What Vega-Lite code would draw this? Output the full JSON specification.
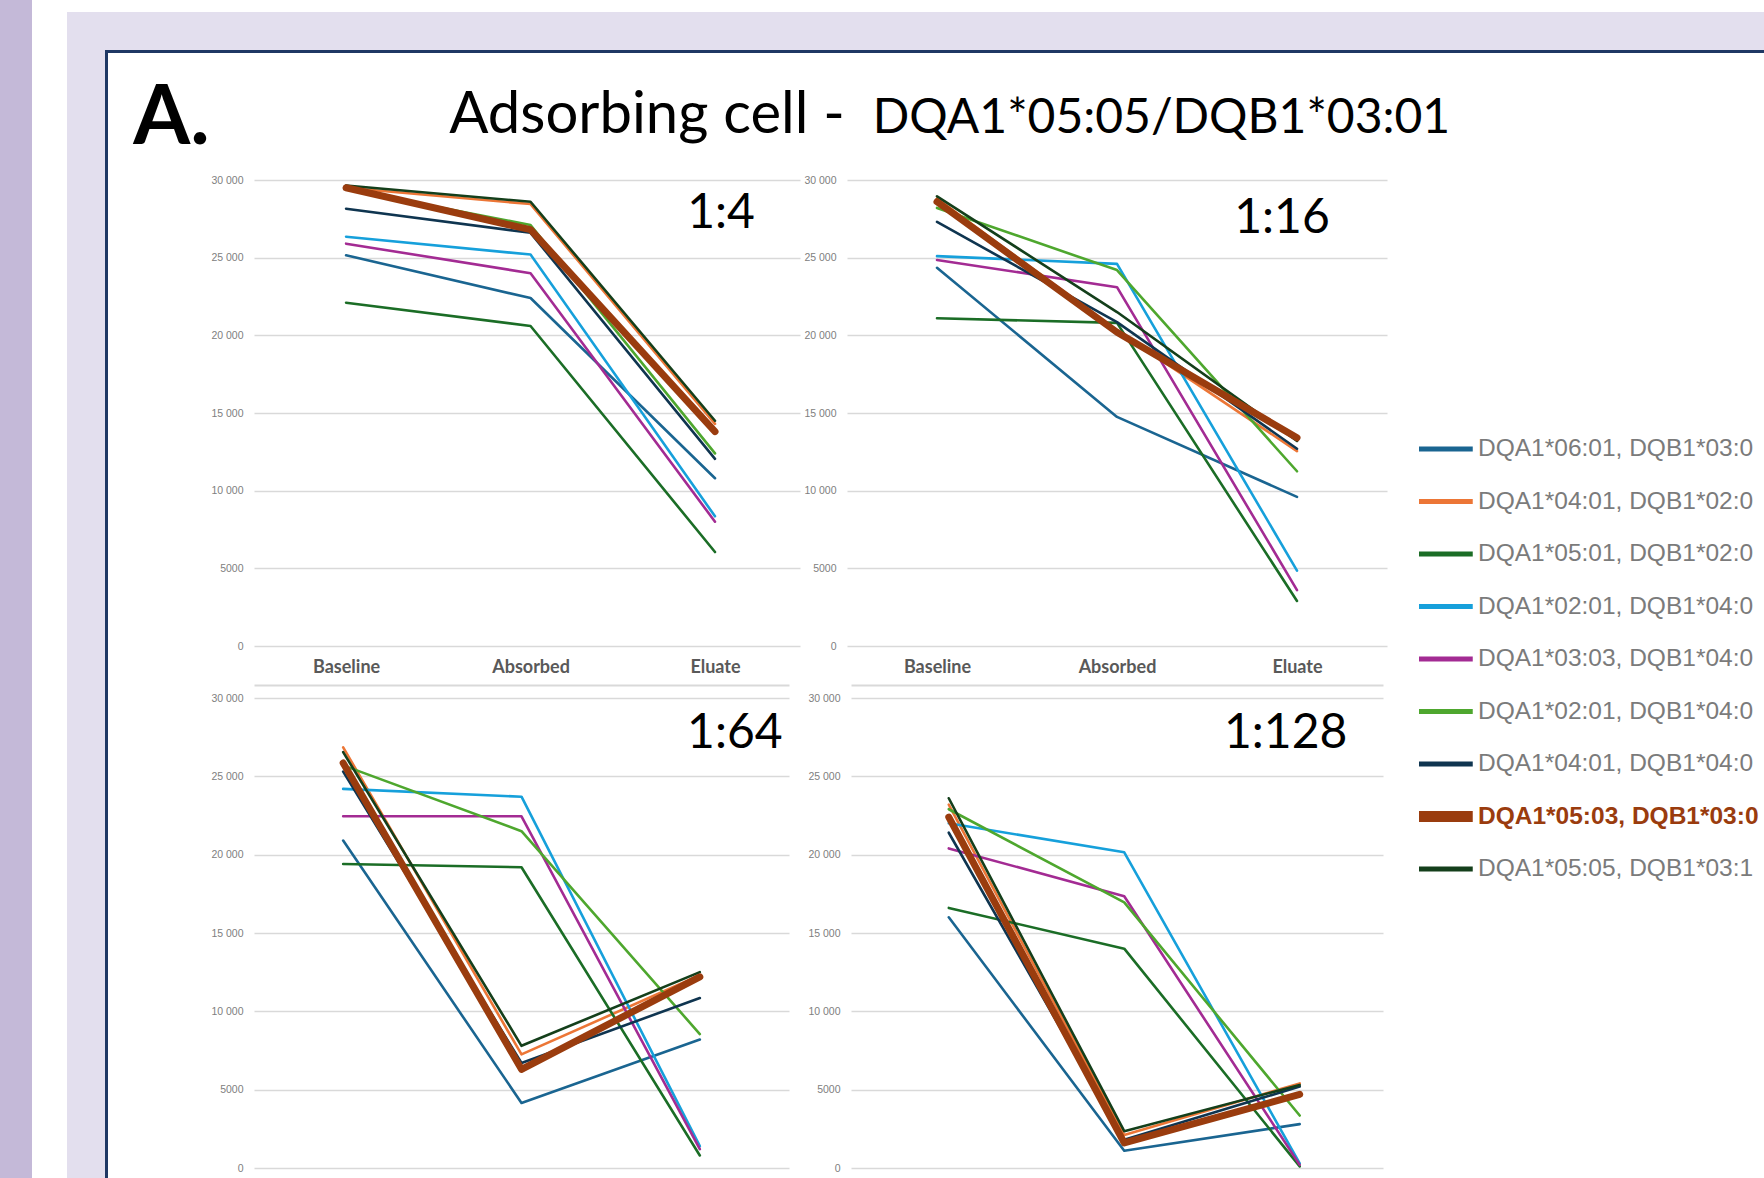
{
"$schema": "https://vega.github.io/schema/vega-lite/v6.json",
"background": "white",
"padding": 0,
"autosize": {"type": "pad"},
"config": {"view": {"stroke": null}},
"datasets": {"d": [
{"dilution":"1:4","stage":"Baseline","pair":"DQA1*06:01, DQB1*03:01","value":25150},
{"dilution":"1:4","stage":"Absorbed","pair":"DQA1*06:01, DQB1*03:01","value":22400},
{"dilution":"1:4","stage":"Eluate","pair":"DQA1*06:01, DQB1*03:01","value":10800},
{"dilution":"1:4","stage":"Baseline","pair":"DQA1*04:01, DQB1*02:01","value":29500},
{"dilution":"1:4","stage":"Absorbed","pair":"DQA1*04:01, DQB1*02:01","value":28450},
{"dilution":"1:4","stage":"Eluate","pair":"DQA1*04:01, DQB1*02:01","value":14300},
{"dilution":"1:4","stage":"Baseline","pair":"DQA1*05:01, DQB1*02:01","value":22100},
{"dilution":"1:4","stage":"Absorbed","pair":"DQA1*05:01, DQB1*02:01","value":20600},
{"dilution":"1:4","stage":"Eluate","pair":"DQA1*05:01, DQB1*02:01","value":6050},
{"dilution":"1:4","stage":"Baseline","pair":"DQA1*02:01, DQB1*04:01","value":26350},
{"dilution":"1:4","stage":"Absorbed","pair":"DQA1*02:01, DQB1*04:01","value":25200},
{"dilution":"1:4","stage":"Eluate","pair":"DQA1*02:01, DQB1*04:01","value":8350},
{"dilution":"1:4","stage":"Baseline","pair":"DQA1*03:03, DQB1*04:01","value":25900},
{"dilution":"1:4","stage":"Absorbed","pair":"DQA1*03:03, DQB1*04:01","value":24000},
{"dilution":"1:4","stage":"Eluate","pair":"DQA1*03:03, DQB1*04:01","value":8000},
{"dilution":"1:4","stage":"Baseline","pair":"DQA1*02:01, DQB1*04:02","value":29400},
{"dilution":"1:4","stage":"Absorbed","pair":"DQA1*02:01, DQB1*04:02","value":27100},
{"dilution":"1:4","stage":"Eluate","pair":"DQA1*02:01, DQB1*04:02","value":12400},
{"dilution":"1:4","stage":"Baseline","pair":"DQA1*04:01, DQB1*04:02","value":28150},
{"dilution":"1:4","stage":"Absorbed","pair":"DQA1*04:01, DQB1*04:02","value":26600},
{"dilution":"1:4","stage":"Eluate","pair":"DQA1*04:01, DQB1*04:02","value":12050},
{"dilution":"1:4","stage":"Baseline","pair":"DQA1*05:03, DQB1*03:01","value":29500},
{"dilution":"1:4","stage":"Absorbed","pair":"DQA1*05:03, DQB1*03:01","value":26800},
{"dilution":"1:4","stage":"Eluate","pair":"DQA1*05:03, DQB1*03:01","value":13800},
{"dilution":"1:4","stage":"Baseline","pair":"DQA1*05:05, DQB1*03:19","value":29650},
{"dilution":"1:4","stage":"Absorbed","pair":"DQA1*05:05, DQB1*03:19","value":28600},
{"dilution":"1:4","stage":"Eluate","pair":"DQA1*05:05, DQB1*03:19","value":14500},
{"dilution":"1:16","stage":"Baseline","pair":"DQA1*06:01, DQB1*03:01","value":24350},
{"dilution":"1:16","stage":"Absorbed","pair":"DQA1*06:01, DQB1*03:01","value":14750},
{"dilution":"1:16","stage":"Eluate","pair":"DQA1*06:01, DQB1*03:01","value":9600},
{"dilution":"1:16","stage":"Baseline","pair":"DQA1*04:01, DQB1*02:01","value":28800},
{"dilution":"1:16","stage":"Absorbed","pair":"DQA1*04:01, DQB1*02:01","value":20300},
{"dilution":"1:16","stage":"Eluate","pair":"DQA1*04:01, DQB1*02:01","value":12550},
{"dilution":"1:16","stage":"Baseline","pair":"DQA1*05:01, DQB1*02:01","value":21100},
{"dilution":"1:16","stage":"Absorbed","pair":"DQA1*05:01, DQB1*02:01","value":20800},
{"dilution":"1:16","stage":"Eluate","pair":"DQA1*05:01, DQB1*02:01","value":2900},
{"dilution":"1:16","stage":"Baseline","pair":"DQA1*02:01, DQB1*04:01","value":25100},
{"dilution":"1:16","stage":"Absorbed","pair":"DQA1*02:01, DQB1*04:01","value":24600},
{"dilution":"1:16","stage":"Eluate","pair":"DQA1*02:01, DQB1*04:01","value":4850},
{"dilution":"1:16","stage":"Baseline","pair":"DQA1*03:03, DQB1*04:01","value":24850},
{"dilution":"1:16","stage":"Absorbed","pair":"DQA1*03:03, DQB1*04:01","value":23100},
{"dilution":"1:16","stage":"Eluate","pair":"DQA1*03:03, DQB1*04:01","value":3600},
{"dilution":"1:16","stage":"Baseline","pair":"DQA1*02:01, DQB1*04:02","value":28200},
{"dilution":"1:16","stage":"Absorbed","pair":"DQA1*02:01, DQB1*04:02","value":24200},
{"dilution":"1:16","stage":"Eluate","pair":"DQA1*02:01, DQB1*04:02","value":11250},
{"dilution":"1:16","stage":"Baseline","pair":"DQA1*04:01, DQB1*04:02","value":27300},
{"dilution":"1:16","stage":"Absorbed","pair":"DQA1*04:01, DQB1*04:02","value":20850},
{"dilution":"1:16","stage":"Eluate","pair":"DQA1*04:01, DQB1*04:02","value":12700},
{"dilution":"1:16","stage":"Baseline","pair":"DQA1*05:03, DQB1*03:01","value":28600},
{"dilution":"1:16","stage":"Absorbed","pair":"DQA1*05:03, DQB1*03:01","value":20200},
{"dilution":"1:16","stage":"Eluate","pair":"DQA1*05:03, DQB1*03:01","value":13400},
{"dilution":"1:16","stage":"Baseline","pair":"DQA1*05:05, DQB1*03:19","value":28950},
{"dilution":"1:16","stage":"Absorbed","pair":"DQA1*05:05, DQB1*03:19","value":21500},
{"dilution":"1:16","stage":"Eluate","pair":"DQA1*05:05, DQB1*03:19","value":13200},
{"dilution":"1:64","stage":"Baseline","pair":"DQA1*06:01, DQB1*03:01","value":20900},
{"dilution":"1:64","stage":"Absorbed","pair":"DQA1*06:01, DQB1*03:01","value":4150},
{"dilution":"1:64","stage":"Eluate","pair":"DQA1*06:01, DQB1*03:01","value":8200},
{"dilution":"1:64","stage":"Baseline","pair":"DQA1*04:01, DQB1*02:01","value":26850},
{"dilution":"1:64","stage":"Absorbed","pair":"DQA1*04:01, DQB1*02:01","value":7250},
{"dilution":"1:64","stage":"Eluate","pair":"DQA1*04:01, DQB1*02:01","value":12300},
{"dilution":"1:64","stage":"Baseline","pair":"DQA1*05:01, DQB1*02:01","value":19400},
{"dilution":"1:64","stage":"Absorbed","pair":"DQA1*05:01, DQB1*02:01","value":19200},
{"dilution":"1:64","stage":"Eluate","pair":"DQA1*05:01, DQB1*02:01","value":800},
{"dilution":"1:64","stage":"Baseline","pair":"DQA1*02:01, DQB1*04:01","value":24200},
{"dilution":"1:64","stage":"Absorbed","pair":"DQA1*02:01, DQB1*04:01","value":23700},
{"dilution":"1:64","stage":"Eluate","pair":"DQA1*02:01, DQB1*04:01","value":1400},
{"dilution":"1:64","stage":"Baseline","pair":"DQA1*03:03, DQB1*04:01","value":22450},
{"dilution":"1:64","stage":"Absorbed","pair":"DQA1*03:03, DQB1*04:01","value":22450},
{"dilution":"1:64","stage":"Eluate","pair":"DQA1*03:03, DQB1*04:01","value":1200},
{"dilution":"1:64","stage":"Baseline","pair":"DQA1*02:01, DQB1*04:02","value":25700},
{"dilution":"1:64","stage":"Absorbed","pair":"DQA1*02:01, DQB1*04:02","value":21500},
{"dilution":"1:64","stage":"Eluate","pair":"DQA1*02:01, DQB1*04:02","value":8550},
{"dilution":"1:64","stage":"Baseline","pair":"DQA1*04:01, DQB1*04:02","value":25300},
{"dilution":"1:64","stage":"Absorbed","pair":"DQA1*04:01, DQB1*04:02","value":6700},
{"dilution":"1:64","stage":"Eluate","pair":"DQA1*04:01, DQB1*04:02","value":10850},
{"dilution":"1:64","stage":"Baseline","pair":"DQA1*05:03, DQB1*03:01","value":25850},
{"dilution":"1:64","stage":"Absorbed","pair":"DQA1*05:03, DQB1*03:01","value":6300},
{"dilution":"1:64","stage":"Eluate","pair":"DQA1*05:03, DQB1*03:01","value":12200},
{"dilution":"1:64","stage":"Baseline","pair":"DQA1*05:05, DQB1*03:19","value":26550},
{"dilution":"1:64","stage":"Absorbed","pair":"DQA1*05:05, DQB1*03:19","value":7800},
{"dilution":"1:64","stage":"Eluate","pair":"DQA1*05:05, DQB1*03:19","value":12500},
{"dilution":"1:128","stage":"Baseline","pair":"DQA1*06:01, DQB1*03:01","value":16000},
{"dilution":"1:128","stage":"Absorbed","pair":"DQA1*06:01, DQB1*03:01","value":1100},
{"dilution":"1:128","stage":"Eluate","pair":"DQA1*06:01, DQB1*03:01","value":2800},
{"dilution":"1:128","stage":"Baseline","pair":"DQA1*04:01, DQB1*02:01","value":23200},
{"dilution":"1:128","stage":"Absorbed","pair":"DQA1*04:01, DQB1*02:01","value":2100},
{"dilution":"1:128","stage":"Eluate","pair":"DQA1*04:01, DQB1*02:01","value":5400},
{"dilution":"1:128","stage":"Baseline","pair":"DQA1*05:01, DQB1*02:01","value":16600},
{"dilution":"1:128","stage":"Absorbed","pair":"DQA1*05:01, DQB1*02:01","value":14000},
{"dilution":"1:128","stage":"Eluate","pair":"DQA1*05:01, DQB1*02:01","value":100},
{"dilution":"1:128","stage":"Baseline","pair":"DQA1*02:01, DQB1*04:01","value":22000},
{"dilution":"1:128","stage":"Absorbed","pair":"DQA1*02:01, DQB1*04:01","value":20150},
{"dilution":"1:128","stage":"Eluate","pair":"DQA1*02:01, DQB1*04:01","value":300},
{"dilution":"1:128","stage":"Baseline","pair":"DQA1*03:03, DQB1*04:01","value":20400},
{"dilution":"1:128","stage":"Absorbed","pair":"DQA1*03:03, DQB1*04:01","value":17350},
{"dilution":"1:128","stage":"Eluate","pair":"DQA1*03:03, DQB1*04:01","value":200},
{"dilution":"1:128","stage":"Baseline","pair":"DQA1*02:01, DQB1*04:02","value":22900},
{"dilution":"1:128","stage":"Absorbed","pair":"DQA1*02:01, DQB1*04:02","value":16950},
{"dilution":"1:128","stage":"Eluate","pair":"DQA1*02:01, DQB1*04:02","value":3350},
{"dilution":"1:128","stage":"Baseline","pair":"DQA1*04:01, DQB1*04:02","value":21400},
{"dilution":"1:128","stage":"Absorbed","pair":"DQA1*04:01, DQB1*04:02","value":1800},
{"dilution":"1:128","stage":"Eluate","pair":"DQA1*04:01, DQB1*04:02","value":5200},
{"dilution":"1:128","stage":"Baseline","pair":"DQA1*05:03, DQB1*03:01","value":22400},
{"dilution":"1:128","stage":"Absorbed","pair":"DQA1*05:03, DQB1*03:01","value":1600},
{"dilution":"1:128","stage":"Eluate","pair":"DQA1*05:03, DQB1*03:01","value":4700},
{"dilution":"1:128","stage":"Baseline","pair":"DQA1*05:05, DQB1*03:19","value":23600},
{"dilution":"1:128","stage":"Absorbed","pair":"DQA1*05:05, DQB1*03:19","value":2350},
{"dilution":"1:128","stage":"Eluate","pair":"DQA1*05:05, DQB1*03:19","value":5300}
]},
"spacing": 35,
"bounds": "full",
"hconcat": [
 {"width": 32, "height": 1178, "data": {"values": []}, "mark": "point", "encoding": {}, "view": {"fill": "#c4b9d8", "stroke": null}},
 {"spacing": 0, "vconcat": [
  {"width": 1697, "height": 12, "data": {"values": []}, "mark": "point", "encoding": {}},
  {"width": 1697, "height": 38, "data": {"values": []}, "mark": "point", "encoding": {}, "view": {"fill": "#e3dfee", "stroke": null}},
  {"spacing": 0, "hconcat": [
   {"width": 38, "height": 1128, "data": {"values": []}, "mark": "point", "encoding": {}, "view": {"fill": "#e3dfee", "stroke": null}},
   {"spacing": 0, "vconcat": [
    {"width": 1659, "height": 3, "data": {"values": []}, "mark": "point", "encoding": {}, "view": {"fill": "#1f3864", "stroke": null}},
    {"spacing": 0, "hconcat": [
     {"width": 3, "height": 1125, "data": {"values": []}, "mark": "point", "encoding": {}, "view": {"fill": "#1f3864", "stroke": null}},
     {"spacing": 0, "vconcat": [
      {"spacing": 0, "bounds": "flush", "hconcat": [
       {"width": 127, "height": 122, "data": {"values": [{"t": "A."}]}, "mark": {"type": "text", "font": "Lato", "fontWeight": "bold", "fontSize": 82, "baseline": "alphabetic", "align": "center", "dy": 30, "color": "#000000"}, "encoding": {"text": {"field": "t"}}},
       {"width": 824, "height": 122, "data": {"values": [{"t": "Adsorbing cell -"}]}, "mark": {"type": "text", "font": "Lato", "fontSize": 58, "baseline": "alphabetic", "align": "center", "dy": 19, "color": "#000000"}, "encoding": {"text": {"field": "t"}}},
       {"width": 205, "height": 122, "data": {"values": [{"t": "DQA1*05:05/DQB1*03:01"}]}, "mark": {"type": "text", "font": "Lato", "fontSize": 48, "baseline": "alphabetic", "align": "center", "dy": 19, "color": "#000000"}, "encoding": {"text": {"field": "t"}}}
      ]},
      {"spacing": 0, "hconcat": [
       {"width": 102, "height": 10, "data": {"values": []}, "mark": "point", "encoding": {}},
       {"spacing": 9, "vconcat": [
        {"spacing": 47, "bounds": "flush", "hconcat": [
         {"width": 546, "height": 466, "layer": [
          {"data": {"name": "d"}, "transform": [{"filter": "datum.dilution === '1:4' && datum.pair !== 'DQA1*05:03, DQB1*03:01'"}],
           "mark": {"type": "line", "strokeWidth": 2.6, "strokeCap": "round", "strokeJoin": "round"},
           "encoding": {
            "x": {"field": "stage", "type": "nominal", "scale": {"type": "point", "padding": 0.48, "align": 0.52, "domain": ["Baseline", "Absorbed", "Eluate"]}, "axis": {"title": null, "orient": "bottom", "domain": false, "ticks": false, "grid": false, "labelAngle": 0, "labelFont": "Lato", "labelFontWeight": "bold", "labelFontSize": 18, "labelColor": "#595959", "labelPadding": 21, "labelBaseline": "middle"}},
            "y": {"field": "value", "type": "quantitative", "scale": {"domain": [0, 30000], "nice": false}, "axis": {"title": null, "values": [0, 5000, 10000, 15000, 20000, 25000, 30000], "labelExpr": "datum.value >= 10000 ? replace(format(datum.value, ','), ',', ' ') : format(datum.value, 'd')", "domain": false, "ticks": false, "labelPadding": 11, "labelFont": "Liberation Sans", "labelFontSize": 10.5, "labelColor": "#808080", "grid": true, "gridColor": "#d9d9d9", "gridWidth": 1.5}},
            "color": {"field": "pair", "type": "nominal", "scale": {"domain": ["DQA1*06:01, DQB1*03:01", "DQA1*04:01, DQB1*02:01", "DQA1*05:01, DQB1*02:01", "DQA1*02:01, DQB1*04:01", "DQA1*03:03, DQB1*04:01", "DQA1*02:01, DQB1*04:02", "DQA1*04:01, DQB1*04:02", "DQA1*05:03, DQB1*03:01", "DQA1*05:05, DQB1*03:19"], "range": ["#1a6591", "#ec7636", "#1b6d26", "#16a0db", "#a32b93", "#4ea72e", "#0f3550", "#9a3c0e", "#143f1b"]}, "legend": {"title": null, "orient": "none", "legendX": 1419, "legendY": 436, "symbolType": "stroke", "symbolSize": 2916, "symbolOffset": 14.5, "symbolStrokeWidth": 5, "labelFont": "Liberation Sans", "labelFontSize": 24.5, "labelColor": "#7b7b7b", "labelOffset": 20, "rowPadding": 26.5, "clipHeight": 26, "padding": 0, "labelLimit": 284, "labelExpr": "slice(datum.label, 0, 21)", "encode": {"labels": {"update": {"fill": {"signal": "datum.value === 'DQA1*05:03, DQB1*03:01' ? '#9a3c0e' : '#7b7b7b'"}, "fontWeight": {"signal": "datum.value === 'DQA1*05:03, DQB1*03:01' ? 'bold' : 'normal'"}}}, "symbols": {"update": {"strokeWidth": {"signal": "datum.value === 'DQA1*05:03, DQB1*03:01' ? 11 : 5"}}}}}}
           }},
          {"data": {"name": "d"}, "transform": [{"filter": "datum.dilution === '1:4' && datum.pair === 'DQA1*05:03, DQB1*03:01'"}],
           "mark": {"type": "line", "strokeWidth": 7, "strokeCap": "round", "strokeJoin": "round"},
           "encoding": {
            "x": {"field": "stage", "type": "nominal", "scale": {"type": "point", "padding": 0.48, "align": 0.52, "domain": ["Baseline", "Absorbed", "Eluate"]}, "axis": {"title": null, "orient": "bottom", "domain": false, "ticks": false, "grid": false, "labelAngle": 0, "labelFont": "Lato", "labelFontWeight": "bold", "labelFontSize": 18, "labelColor": "#595959", "labelPadding": 21, "labelBaseline": "middle"}},
            "y": {"field": "value", "type": "quantitative", "scale": {"domain": [0, 30000], "nice": false}, "axis": {"title": null, "values": [0, 5000, 10000, 15000, 20000, 25000, 30000], "labelExpr": "datum.value >= 10000 ? replace(format(datum.value, ','), ',', ' ') : format(datum.value, 'd')", "domain": false, "ticks": false, "labelPadding": 11, "labelFont": "Liberation Sans", "labelFontSize": 10.5, "labelColor": "#808080", "grid": true, "gridColor": "#d9d9d9", "gridWidth": 1.5}},
            "color": {"field": "pair", "type": "nominal", "scale": {"domain": ["DQA1*06:01, DQB1*03:01", "DQA1*04:01, DQB1*02:01", "DQA1*05:01, DQB1*02:01", "DQA1*02:01, DQB1*04:01", "DQA1*03:03, DQB1*04:01", "DQA1*02:01, DQB1*04:02", "DQA1*04:01, DQB1*04:02", "DQA1*05:03, DQB1*03:01", "DQA1*05:05, DQB1*03:19"], "range": ["#1a6591", "#ec7636", "#1b6d26", "#16a0db", "#a32b93", "#4ea72e", "#0f3550", "#9a3c0e", "#143f1b"]}, "legend": {"title": null, "orient": "none", "legendX": 1419, "legendY": 436, "symbolType": "stroke", "symbolSize": 2916, "symbolOffset": 14.5, "symbolStrokeWidth": 5, "labelFont": "Liberation Sans", "labelFontSize": 24.5, "labelColor": "#7b7b7b", "labelOffset": 20, "rowPadding": 26.5, "clipHeight": 26, "padding": 0, "labelLimit": 284, "labelExpr": "slice(datum.label, 0, 21)", "encode": {"labels": {"update": {"fill": {"signal": "datum.value === 'DQA1*05:03, DQB1*03:01' ? '#9a3c0e' : '#7b7b7b'"}, "fontWeight": {"signal": "datum.value === 'DQA1*05:03, DQB1*03:01' ? 'bold' : 'normal'"}}}, "symbols": {"update": {"strokeWidth": {"signal": "datum.value === 'DQA1*05:03, DQB1*03:01' ? 11 : 5"}}}}}}
           }},
          {"data": {"values": [{"label": "1:4"}]},
           "mark": {"type": "text", "font": "Lato", "fontSize": 48, "baseline": "alphabetic", "align": "center", "dx": 6, "color": "#000000"},
           "encoding": {"x": {"datum": "Eluate"}, "y": {"datum": 26910}, "text": {"field": "label"}}}
         ]},
         {"width": 540, "height": 466, "layer": [
          {"data": {"name": "d"}, "transform": [{"filter": "datum.dilution === '1:16' && datum.pair !== 'DQA1*05:03, DQB1*03:01'"}],
           "mark": {"type": "line", "strokeWidth": 2.6, "strokeCap": "round", "strokeJoin": "round"},
           "encoding": {
            "x": {"field": "stage", "type": "nominal", "scale": {"type": "point", "padding": 0.5, "domain": ["Baseline", "Absorbed", "Eluate"]}, "axis": {"title": null, "orient": "bottom", "domain": false, "ticks": false, "grid": false, "labelAngle": 0, "labelFont": "Lato", "labelFontWeight": "bold", "labelFontSize": 18, "labelColor": "#595959", "labelPadding": 21, "labelBaseline": "middle"}},
            "y": {"field": "value", "type": "quantitative", "scale": {"domain": [0, 30000], "nice": false}, "axis": {"title": null, "values": [0, 5000, 10000, 15000, 20000, 25000, 30000], "labelExpr": "datum.value >= 10000 ? replace(format(datum.value, ','), ',', ' ') : format(datum.value, 'd')", "domain": false, "ticks": false, "labelPadding": 11, "labelFont": "Liberation Sans", "labelFontSize": 10.5, "labelColor": "#808080", "grid": true, "gridColor": "#d9d9d9", "gridWidth": 1.5}},
            "color": {"field": "pair", "type": "nominal", "scale": {"domain": ["DQA1*06:01, DQB1*03:01", "DQA1*04:01, DQB1*02:01", "DQA1*05:01, DQB1*02:01", "DQA1*02:01, DQB1*04:01", "DQA1*03:03, DQB1*04:01", "DQA1*02:01, DQB1*04:02", "DQA1*04:01, DQB1*04:02", "DQA1*05:03, DQB1*03:01", "DQA1*05:05, DQB1*03:19"], "range": ["#1a6591", "#ec7636", "#1b6d26", "#16a0db", "#a32b93", "#4ea72e", "#0f3550", "#9a3c0e", "#143f1b"]}, "legend": {"title": null, "orient": "none", "legendX": 1419, "legendY": 436, "symbolType": "stroke", "symbolSize": 2916, "symbolOffset": 14.5, "symbolStrokeWidth": 5, "labelFont": "Liberation Sans", "labelFontSize": 24.5, "labelColor": "#7b7b7b", "labelOffset": 20, "rowPadding": 26.5, "clipHeight": 26, "padding": 0, "labelLimit": 284, "labelExpr": "slice(datum.label, 0, 21)", "encode": {"labels": {"update": {"fill": {"signal": "datum.value === 'DQA1*05:03, DQB1*03:01' ? '#9a3c0e' : '#7b7b7b'"}, "fontWeight": {"signal": "datum.value === 'DQA1*05:03, DQB1*03:01' ? 'bold' : 'normal'"}}}, "symbols": {"update": {"strokeWidth": {"signal": "datum.value === 'DQA1*05:03, DQB1*03:01' ? 11 : 5"}}}}}}
           }},
          {"data": {"name": "d"}, "transform": [{"filter": "datum.dilution === '1:16' && datum.pair === 'DQA1*05:03, DQB1*03:01'"}],
           "mark": {"type": "line", "strokeWidth": 7, "strokeCap": "round", "strokeJoin": "round"},
           "encoding": {
            "x": {"field": "stage", "type": "nominal", "scale": {"type": "point", "padding": 0.5, "domain": ["Baseline", "Absorbed", "Eluate"]}, "axis": {"title": null, "orient": "bottom", "domain": false, "ticks": false, "grid": false, "labelAngle": 0, "labelFont": "Lato", "labelFontWeight": "bold", "labelFontSize": 18, "labelColor": "#595959", "labelPadding": 21, "labelBaseline": "middle"}},
            "y": {"field": "value", "type": "quantitative", "scale": {"domain": [0, 30000], "nice": false}, "axis": {"title": null, "values": [0, 5000, 10000, 15000, 20000, 25000, 30000], "labelExpr": "datum.value >= 10000 ? replace(format(datum.value, ','), ',', ' ') : format(datum.value, 'd')", "domain": false, "ticks": false, "labelPadding": 11, "labelFont": "Liberation Sans", "labelFontSize": 10.5, "labelColor": "#808080", "grid": true, "gridColor": "#d9d9d9", "gridWidth": 1.5}},
            "color": {"field": "pair", "type": "nominal", "scale": {"domain": ["DQA1*06:01, DQB1*03:01", "DQA1*04:01, DQB1*02:01", "DQA1*05:01, DQB1*02:01", "DQA1*02:01, DQB1*04:01", "DQA1*03:03, DQB1*04:01", "DQA1*02:01, DQB1*04:02", "DQA1*04:01, DQB1*04:02", "DQA1*05:03, DQB1*03:01", "DQA1*05:05, DQB1*03:19"], "range": ["#1a6591", "#ec7636", "#1b6d26", "#16a0db", "#a32b93", "#4ea72e", "#0f3550", "#9a3c0e", "#143f1b"]}, "legend": {"title": null, "orient": "none", "legendX": 1419, "legendY": 436, "symbolType": "stroke", "symbolSize": 2916, "symbolOffset": 14.5, "symbolStrokeWidth": 5, "labelFont": "Liberation Sans", "labelFontSize": 24.5, "labelColor": "#7b7b7b", "labelOffset": 20, "rowPadding": 26.5, "clipHeight": 26, "padding": 0, "labelLimit": 284, "labelExpr": "slice(datum.label, 0, 21)", "encode": {"labels": {"update": {"fill": {"signal": "datum.value === 'DQA1*05:03, DQB1*03:01' ? '#9a3c0e' : '#7b7b7b'"}, "fontWeight": {"signal": "datum.value === 'DQA1*05:03, DQB1*03:01' ? 'bold' : 'normal'"}}}, "symbols": {"update": {"strokeWidth": {"signal": "datum.value === 'DQA1*05:03, DQB1*03:01' ? 11 : 5"}}}}}}
           }},
          {"data": {"values": [{"label": "1:16"}]},
           "mark": {"type": "text", "font": "Lato", "fontSize": 48, "baseline": "alphabetic", "align": "center", "dx": -15, "color": "#000000"},
           "encoding": {"x": {"datum": "Eluate"}, "y": {"datum": 26590}, "text": {"field": "label"}}}
         ]}
        ]},
        {"spacing": 62, "bounds": "flush", "hconcat": [
         {"width": 535, "height": 470, "layer": [
          {"data": {"name": "d"}, "transform": [{"filter": "datum.dilution === '1:64' && datum.pair !== 'DQA1*05:03, DQB1*03:01'"}],
           "mark": {"type": "line", "strokeWidth": 2.6, "strokeCap": "round", "strokeJoin": "round"},
           "encoding": {
            "x": {"field": "stage", "type": "nominal", "scale": {"type": "point", "padding": 0.5, "domain": ["Baseline", "Absorbed", "Eluate"]}, "axis": {"title": null, "orient": "top", "labels": false, "ticks": false, "grid": false, "domain": true, "domainColor": "#d9d9d9", "domainWidth": 2, "offset": 13}},
            "y": {"field": "value", "type": "quantitative", "scale": {"domain": [0, 30000], "nice": false}, "axis": {"title": null, "values": [0, 5000, 10000, 15000, 20000, 25000, 30000], "labelExpr": "datum.value >= 10000 ? replace(format(datum.value, ','), ',', ' ') : format(datum.value, 'd')", "domain": false, "ticks": false, "labelPadding": 11, "labelFont": "Liberation Sans", "labelFontSize": 10.5, "labelColor": "#808080", "grid": true, "gridColor": "#d9d9d9", "gridWidth": 1.5}},
            "color": {"field": "pair", "type": "nominal", "scale": {"domain": ["DQA1*06:01, DQB1*03:01", "DQA1*04:01, DQB1*02:01", "DQA1*05:01, DQB1*02:01", "DQA1*02:01, DQB1*04:01", "DQA1*03:03, DQB1*04:01", "DQA1*02:01, DQB1*04:02", "DQA1*04:01, DQB1*04:02", "DQA1*05:03, DQB1*03:01", "DQA1*05:05, DQB1*03:19"], "range": ["#1a6591", "#ec7636", "#1b6d26", "#16a0db", "#a32b93", "#4ea72e", "#0f3550", "#9a3c0e", "#143f1b"]}, "legend": {"title": null, "orient": "none", "legendX": 1419, "legendY": 436, "symbolType": "stroke", "symbolSize": 2916, "symbolOffset": 14.5, "symbolStrokeWidth": 5, "labelFont": "Liberation Sans", "labelFontSize": 24.5, "labelColor": "#7b7b7b", "labelOffset": 20, "rowPadding": 26.5, "clipHeight": 26, "padding": 0, "labelLimit": 284, "labelExpr": "slice(datum.label, 0, 21)", "encode": {"labels": {"update": {"fill": {"signal": "datum.value === 'DQA1*05:03, DQB1*03:01' ? '#9a3c0e' : '#7b7b7b'"}, "fontWeight": {"signal": "datum.value === 'DQA1*05:03, DQB1*03:01' ? 'bold' : 'normal'"}}}, "symbols": {"update": {"strokeWidth": {"signal": "datum.value === 'DQA1*05:03, DQB1*03:01' ? 11 : 5"}}}}}}
           }},
          {"data": {"name": "d"}, "transform": [{"filter": "datum.dilution === '1:64' && datum.pair === 'DQA1*05:03, DQB1*03:01'"}],
           "mark": {"type": "line", "strokeWidth": 7, "strokeCap": "round", "strokeJoin": "round"},
           "encoding": {
            "x": {"field": "stage", "type": "nominal", "scale": {"type": "point", "padding": 0.5, "domain": ["Baseline", "Absorbed", "Eluate"]}, "axis": {"title": null, "orient": "top", "labels": false, "ticks": false, "grid": false, "domain": true, "domainColor": "#d9d9d9", "domainWidth": 2, "offset": 13}},
            "y": {"field": "value", "type": "quantitative", "scale": {"domain": [0, 30000], "nice": false}, "axis": {"title": null, "values": [0, 5000, 10000, 15000, 20000, 25000, 30000], "labelExpr": "datum.value >= 10000 ? replace(format(datum.value, ','), ',', ' ') : format(datum.value, 'd')", "domain": false, "ticks": false, "labelPadding": 11, "labelFont": "Liberation Sans", "labelFontSize": 10.5, "labelColor": "#808080", "grid": true, "gridColor": "#d9d9d9", "gridWidth": 1.5}},
            "color": {"field": "pair", "type": "nominal", "scale": {"domain": ["DQA1*06:01, DQB1*03:01", "DQA1*04:01, DQB1*02:01", "DQA1*05:01, DQB1*02:01", "DQA1*02:01, DQB1*04:01", "DQA1*03:03, DQB1*04:01", "DQA1*02:01, DQB1*04:02", "DQA1*04:01, DQB1*04:02", "DQA1*05:03, DQB1*03:01", "DQA1*05:05, DQB1*03:19"], "range": ["#1a6591", "#ec7636", "#1b6d26", "#16a0db", "#a32b93", "#4ea72e", "#0f3550", "#9a3c0e", "#143f1b"]}, "legend": {"title": null, "orient": "none", "legendX": 1419, "legendY": 436, "symbolType": "stroke", "symbolSize": 2916, "symbolOffset": 14.5, "symbolStrokeWidth": 5, "labelFont": "Liberation Sans", "labelFontSize": 24.5, "labelColor": "#7b7b7b", "labelOffset": 20, "rowPadding": 26.5, "clipHeight": 26, "padding": 0, "labelLimit": 284, "labelExpr": "slice(datum.label, 0, 21)", "encode": {"labels": {"update": {"fill": {"signal": "datum.value === 'DQA1*05:03, DQB1*03:01' ? '#9a3c0e' : '#7b7b7b'"}, "fontWeight": {"signal": "datum.value === 'DQA1*05:03, DQB1*03:01' ? 'bold' : 'normal'"}}}, "symbols": {"update": {"strokeWidth": {"signal": "datum.value === 'DQA1*05:03, DQB1*03:01' ? 11 : 5"}}}}}}
           }},
          {"data": {"values": [{"label": "1:64"}]},
           "mark": {"type": "text", "font": "Lato", "fontSize": 48, "baseline": "alphabetic", "align": "center", "dx": 35, "color": "#000000"},
           "encoding": {"x": {"datum": "Eluate"}, "y": {"datum": 26795}, "text": {"field": "label"}}}
         ]},
         {"width": 532, "height": 470, "layer": [
          {"data": {"name": "d"}, "transform": [{"filter": "datum.dilution === '1:128' && datum.pair !== 'DQA1*05:03, DQB1*03:01'"}],
           "mark": {"type": "line", "strokeWidth": 2.6, "strokeCap": "round", "strokeJoin": "round"},
           "encoding": {
            "x": {"field": "stage", "type": "nominal", "scale": {"type": "point", "padding": 0.516, "align": 0.54, "domain": ["Baseline", "Absorbed", "Eluate"]}, "axis": {"title": null, "orient": "top", "labels": false, "ticks": false, "grid": false, "domain": true, "domainColor": "#d9d9d9", "domainWidth": 2, "offset": 13}},
            "y": {"field": "value", "type": "quantitative", "scale": {"domain": [0, 30000], "nice": false}, "axis": {"title": null, "values": [0, 5000, 10000, 15000, 20000, 25000, 30000], "labelExpr": "datum.value >= 10000 ? replace(format(datum.value, ','), ',', ' ') : format(datum.value, 'd')", "domain": false, "ticks": false, "labelPadding": 11, "labelFont": "Liberation Sans", "labelFontSize": 10.5, "labelColor": "#808080", "grid": true, "gridColor": "#d9d9d9", "gridWidth": 1.5}},
            "color": {"field": "pair", "type": "nominal", "scale": {"domain": ["DQA1*06:01, DQB1*03:01", "DQA1*04:01, DQB1*02:01", "DQA1*05:01, DQB1*02:01", "DQA1*02:01, DQB1*04:01", "DQA1*03:03, DQB1*04:01", "DQA1*02:01, DQB1*04:02", "DQA1*04:01, DQB1*04:02", "DQA1*05:03, DQB1*03:01", "DQA1*05:05, DQB1*03:19"], "range": ["#1a6591", "#ec7636", "#1b6d26", "#16a0db", "#a32b93", "#4ea72e", "#0f3550", "#9a3c0e", "#143f1b"]}, "legend": {"title": null, "orient": "none", "legendX": 1419, "legendY": 436, "symbolType": "stroke", "symbolSize": 2916, "symbolOffset": 14.5, "symbolStrokeWidth": 5, "labelFont": "Liberation Sans", "labelFontSize": 24.5, "labelColor": "#7b7b7b", "labelOffset": 20, "rowPadding": 26.5, "clipHeight": 26, "padding": 0, "labelLimit": 284, "labelExpr": "slice(datum.label, 0, 21)", "encode": {"labels": {"update": {"fill": {"signal": "datum.value === 'DQA1*05:03, DQB1*03:01' ? '#9a3c0e' : '#7b7b7b'"}, "fontWeight": {"signal": "datum.value === 'DQA1*05:03, DQB1*03:01' ? 'bold' : 'normal'"}}}, "symbols": {"update": {"strokeWidth": {"signal": "datum.value === 'DQA1*05:03, DQB1*03:01' ? 11 : 5"}}}}}}
           }},
          {"data": {"name": "d"}, "transform": [{"filter": "datum.dilution === '1:128' && datum.pair === 'DQA1*05:03, DQB1*03:01'"}],
           "mark": {"type": "line", "strokeWidth": 7, "strokeCap": "round", "strokeJoin": "round"},
           "encoding": {
            "x": {"field": "stage", "type": "nominal", "scale": {"type": "point", "padding": 0.516, "align": 0.54, "domain": ["Baseline", "Absorbed", "Eluate"]}, "axis": {"title": null, "orient": "top", "labels": false, "ticks": false, "grid": false, "domain": true, "domainColor": "#d9d9d9", "domainWidth": 2, "offset": 13}},
            "y": {"field": "value", "type": "quantitative", "scale": {"domain": [0, 30000], "nice": false}, "axis": {"title": null, "values": [0, 5000, 10000, 15000, 20000, 25000, 30000], "labelExpr": "datum.value >= 10000 ? replace(format(datum.value, ','), ',', ' ') : format(datum.value, 'd')", "domain": false, "ticks": false, "labelPadding": 11, "labelFont": "Liberation Sans", "labelFontSize": 10.5, "labelColor": "#808080", "grid": true, "gridColor": "#d9d9d9", "gridWidth": 1.5}},
            "color": {"field": "pair", "type": "nominal", "scale": {"domain": ["DQA1*06:01, DQB1*03:01", "DQA1*04:01, DQB1*02:01", "DQA1*05:01, DQB1*02:01", "DQA1*02:01, DQB1*04:01", "DQA1*03:03, DQB1*04:01", "DQA1*02:01, DQB1*04:02", "DQA1*04:01, DQB1*04:02", "DQA1*05:03, DQB1*03:01", "DQA1*05:05, DQB1*03:19"], "range": ["#1a6591", "#ec7636", "#1b6d26", "#16a0db", "#a32b93", "#4ea72e", "#0f3550", "#9a3c0e", "#143f1b"]}, "legend": {"title": null, "orient": "none", "legendX": 1419, "legendY": 436, "symbolType": "stroke", "symbolSize": 2916, "symbolOffset": 14.5, "symbolStrokeWidth": 5, "labelFont": "Liberation Sans", "labelFontSize": 24.5, "labelColor": "#7b7b7b", "labelOffset": 20, "rowPadding": 26.5, "clipHeight": 26, "padding": 0, "labelLimit": 284, "labelExpr": "slice(datum.label, 0, 21)", "encode": {"labels": {"update": {"fill": {"signal": "datum.value === 'DQA1*05:03, DQB1*03:01' ? '#9a3c0e' : '#7b7b7b'"}, "fontWeight": {"signal": "datum.value === 'DQA1*05:03, DQB1*03:01' ? 'bold' : 'normal'"}}}, "symbols": {"update": {"strokeWidth": {"signal": "datum.value === 'DQA1*05:03, DQB1*03:01' ? 11 : 5"}}}}}}
           }},
          {"data": {"values": [{"label": "1:128"}]},
           "mark": {"type": "text", "font": "Lato", "fontSize": 48, "baseline": "alphabetic", "align": "center", "dx": -14, "color": "#000000"},
           "encoding": {"x": {"datum": "Eluate"}, "y": {"datum": 26795}, "text": {"field": "label"}}}
         ]}
        ]}
       ]}
      ]}
     ]}
    ]}
   ]}
  ]}
 ]}
]
}
